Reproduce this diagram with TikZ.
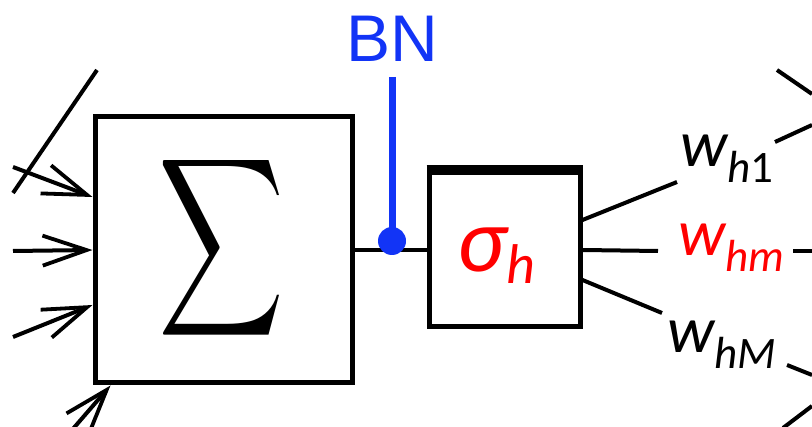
\documentclass[tikz,border=0pt]{standalone}
\usepackage{fontspec}
\setmainfont{Carlito}
\newfontfamily\bnfont{Liberation Sans}
\usetikzlibrary{arrows.meta}
\definecolor{bnblue}{RGB}{18,52,246}
\definecolor{wred}{RGB}{255,0,0}
\tikzset{
  box/.style={draw, line width=5pt, inner sep=0pt},
  wire/.style={line width=4pt},
  inarrow/.style={wire, -{Straight Barb[length=44pt,width=30pt,line width=3.8pt]}},
  lbl/.style={anchor=base west, inner sep=0pt},
}
\newcommand{\wlabel}[1]{{\fontsize{66}{66}\selectfont\itshape w}\raisebox{-16pt}{\fontsize{45}{45}\selectfont #1}}
\begin{document}
\begin{tikzpicture}[x=1pt,y=-1pt]
\useasboundingbox (0,0) rectangle (812,427);
% boxes
\node[box, minimum width=257pt, minimum height=266pt] (sumbox) at (223.5,250) {};
\node[inner sep=0pt] (sumsym) at (222,248) {\resizebox{126pt}{131pt}{$\displaystyle\sum$}};
\node[box, minimum width=151pt, minimum height=154pt] (actbox) at (504.5,250) {};
\draw[line width=8pt] ([yshift=1.5pt]actbox.north west) -- ([yshift=1.5pt]actbox.north east);
\node[lbl, text=wred] (actlbl) at (457,272) {{\fontsize{92}{92}\selectfont\itshape σ}\raisebox{-12pt}{\fontsize{56}{56}\selectfont\itshape h}};
% inputs
\coordinate (i1) at (13,167);
\coordinate (i2) at (13,251);
\coordinate (i3) at (13,337);
\coordinate (i4) at (72,430);
\coordinate (x1) at (13,193);
\coordinate (x2) at (97,70);
\draw[inarrow] (i1) -- ([yshift=53pt]sumbox.west);
\draw[inarrow] (i2) -- (sumbox.west);
\draw[inarrow] (i3) -- ([yshift=-55pt]sumbox.west);
\draw[inarrow] (i4) -- ([xshift=18pt]sumbox.south west);
\draw[wire] (x1) -- (x2);
% BN
\draw[wire] (sumbox.east) -- (actbox.west);
\node[fill=bnblue, circle, inner sep=0pt, minimum size=28pt] (bndot) at (392,241) {};
\node[anchor=base, inner sep=0pt, text=bnblue] (bn) at (392,62) {\bnfont\fontsize{66}{66}\selectfont BN};
\coordinate (bntop) at (392,77);
\draw[bnblue, line width=7pt] (bntop) -- (bndot.center);
% outputs
\coordinate (o1) at (677,182);
\coordinate (o2) at (658,251);
\coordinate (o3) at (662,313);
\draw[wire] ([yshift=30pt]actbox.east) -- (o1);
\draw[wire] (actbox.east) -- (o2);
\draw[wire] ([yshift=-30pt]actbox.east) -- (o3);
\node[lbl] (w1) at (680,167) {\wlabel{\itshape h\upshape 1}};
\node[lbl, text=wred] (wm) at (678,256) {\wlabel{\itshape hm}};
\node[lbl] (wM) at (667,353) {\wlabel{\itshape hM}};
% far right lines
\coordinate (r1a) at (777,70);  \coordinate (r1b) at (812,94);
\coordinate (r2a) at (775,142); \coordinate (r2b) at (812,125);
\coordinate (r3a) at (793,251); \coordinate (r3b) at (812,251);
\coordinate (r4a) at (787,365); \coordinate (r4b) at (812,375);
\coordinate (r5a) at (783,428); \coordinate (r5b) at (812,406);
\draw[wire] (r1a) -- (r1b);
\draw[wire] (r2a) -- (r2b);
\draw[wire] (r3a) -- (r3b);
\draw[wire] (r4a) -- (r4b);
\draw[wire] (r5a) -- (r5b);
\end{tikzpicture}
\end{document}
